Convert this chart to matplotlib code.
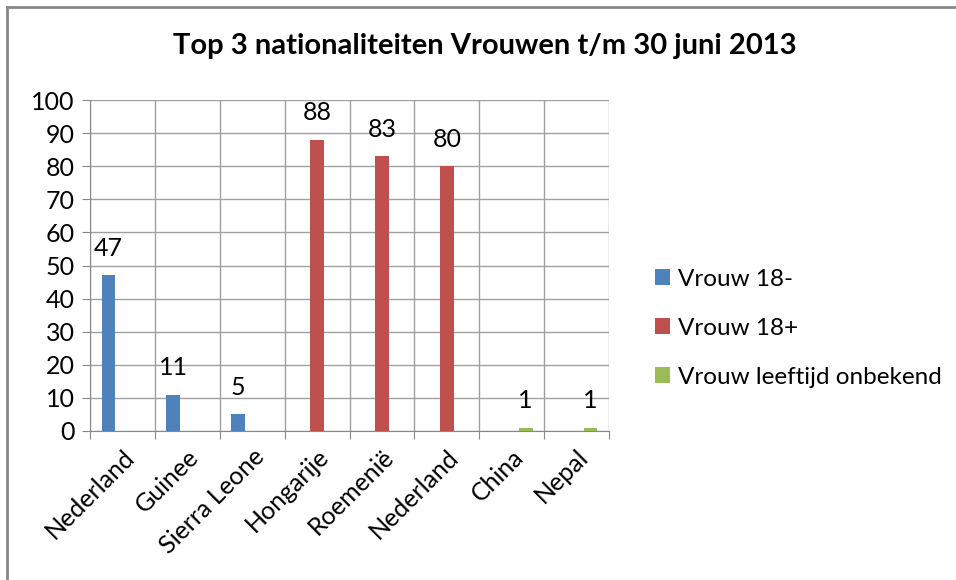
import matplotlib

matplotlib.use("Agg")
import matplotlib.pyplot as plt
import numpy as np
from matplotlib.lines import Line2D

plt.rcParams["font.family"] = ["Lato", "DejaVu Sans"]

categories = ["Nederland", "Guinee", "Sierra Leone", "Hongarije",
              "Roemenië", "Nederland", "China", "Nepal"]
series_names = ["Vrouw 18-", "Vrouw 18+", "Vrouw leeftijd onbekend"]
# one value per category for each series, None where the series has no bar
vrouw_min18 = [47, 11, 5, None, None, None, None, None]
vrouw_plus18 = [None, None, None, 88, 83, 80, None, None]
vrouw_onbekend = [None, None, None, None, None, None, 1, 1]
colors = ["#4f81bd", "#c0504d", "#9bbb59"]

fig = plt.figure(figsize=(9.56, 5.8), dpi=100)
ax = fig.add_axes([90 / 956, 1 - 431 / 580, (609 - 90) / 956, (431 - 100) / 580])

x = np.arange(len(categories))
width = 0.215
offsets = [-width, 0, width]
for vals, name, col, off in zip([vrouw_min18, vrouw_plus18, vrouw_onbekend],
                                series_names, colors, offsets):
    idx = [i for i, v in enumerate(vals) if v is not None]
    h = [vals[i] for i in idx]
    bars = ax.bar(x[idx] + off, h, width, color=col, label=name, zorder=3)
    for b in bars:
        ax.annotate(f"{b.get_height():.0f}",
                    xy=(b.get_x() + b.get_width() / 2, b.get_height()),
                    xytext=(0, 11), textcoords="offset points",
                    ha="center", va="bottom", fontsize=18)

ax.set_xlim(-0.5, len(categories) - 0.5)
ax.set_ylim(0, 100)
ax.set_yticks(range(0, 101, 10))
ax.set_xticks(np.arange(-0.5, len(categories), 1.0), minor=False)
ax.set_xticklabels([])
ax.set_xticks(x, minor=True)
ax.set_xticklabels(categories, minor=True, rotation=45, ha="right",
                   rotation_mode="anchor", fontsize=18)
ax.tick_params(axis="x", which="minor", length=0, pad=10)
ax.tick_params(axis="x", which="major", length=6, color="#888888")
ax.tick_params(axis="y", length=6, color="#888888", labelsize=18, pad=5)
ax.grid(True, which="major", color="#a0a0a0", linewidth=1, zorder=0)
for s in ["top", "right"]:
    ax.spines[s].set_visible(False)
ax.spines["left"].set_color("#888888")
ax.spines["bottom"].set_color("#888888")

ax.set_title("Top 3 nationaliteiten Vrouwen t/m 30 juni 2013",
             fontsize=21, fontweight="bold", pad=33, x=0.76)

ax.legend(loc="upper left", bbox_to_anchor=(1.07, 0.52), frameon=False,
          fontsize=17.5, handlelength=0.6, handleheight=0.6, handletextpad=0.35,
          labelspacing=1.15, borderaxespad=0)

fig.add_artist(Line2D([7 / 956, 7 / 956], [0, 1 - 7 / 580], color="#888888", lw=2))
fig.add_artist(Line2D([7 / 956, 1], [1 - 7 / 580, 1 - 7 / 580], color="#888888", lw=2))

fig.savefig("out.png", dpi=100)
